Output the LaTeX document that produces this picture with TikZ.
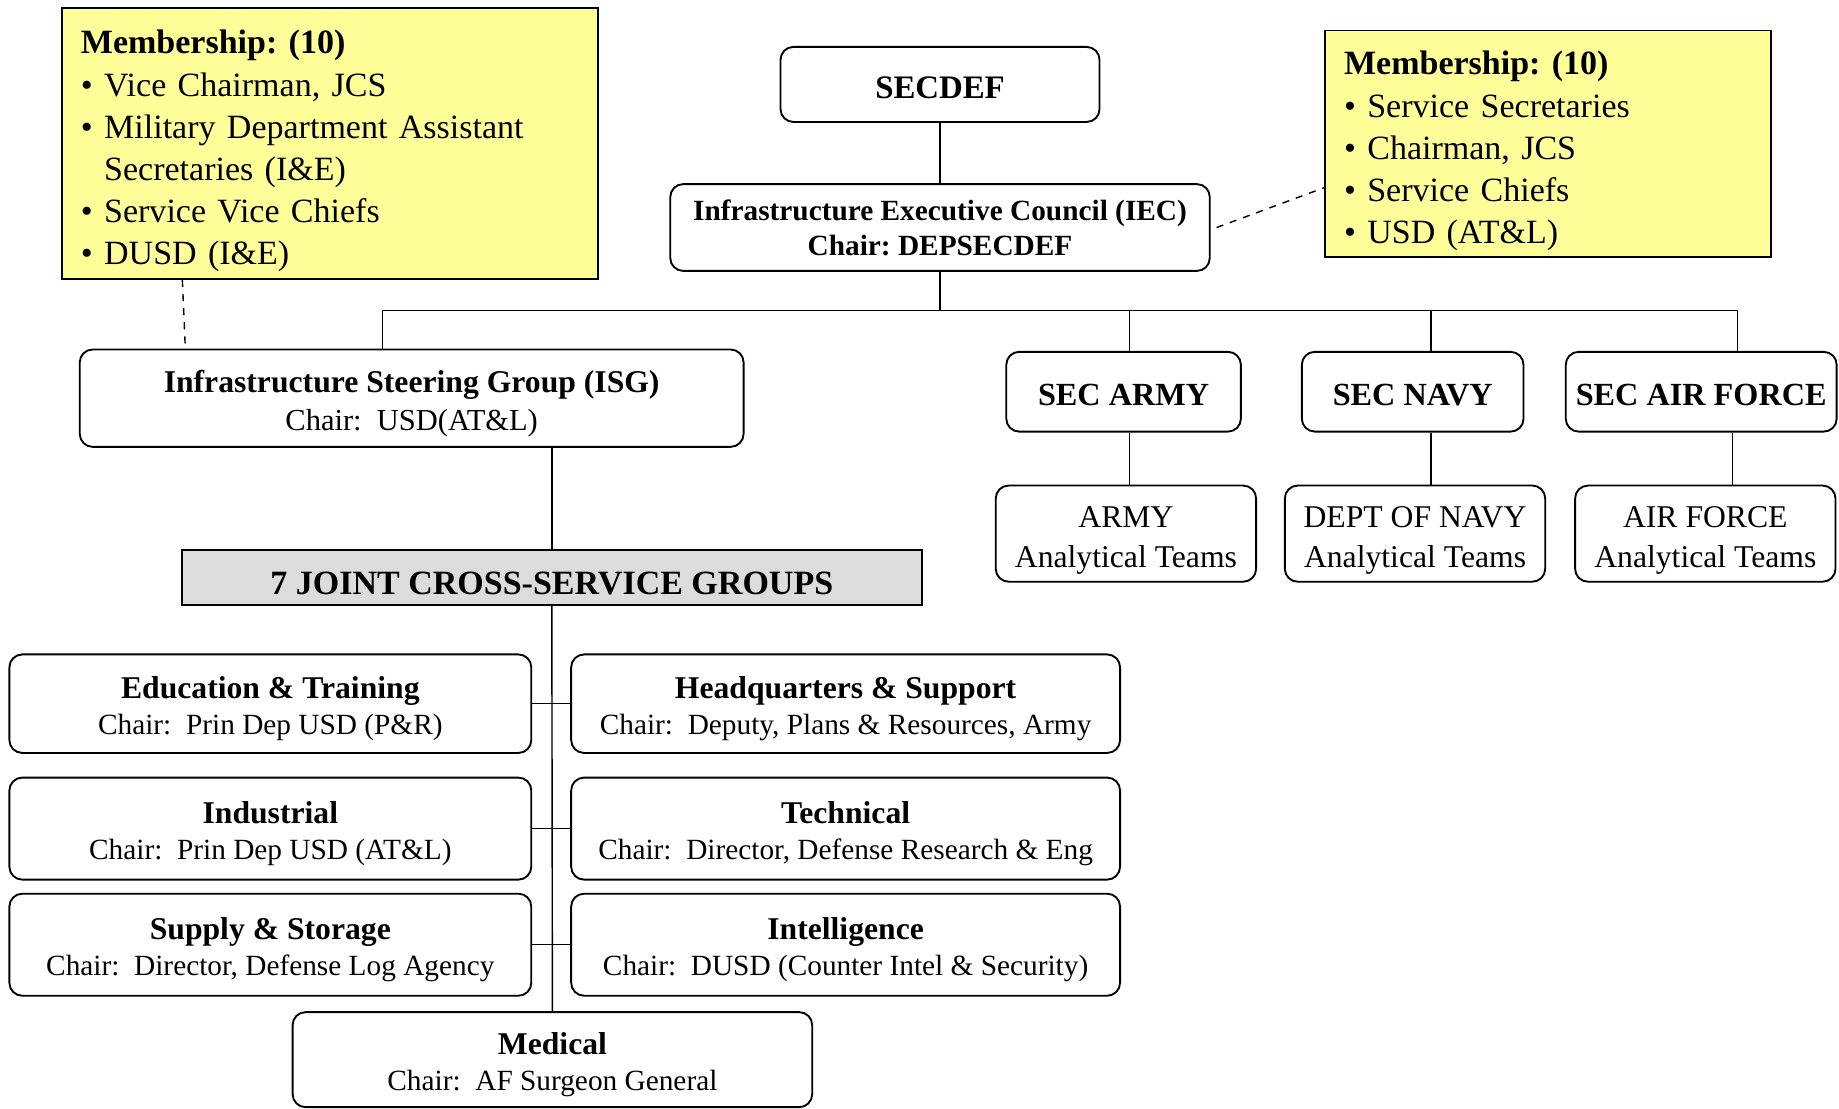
\documentclass[tikz,border=0pt]{standalone}
\usepackage{fontspec}
\setmainfont{Liberation Serif}
\frenchspacing
\definecolor{memyellow}{HTML}{FFFF99}
\definecolor{jcsggrey}{HTML}{DCDCDC}
\begin{document}
\begin{tikzpicture}
[x=0.5pt, y=-0.5pt,
 box/.style={draw, rounded corners=5.5pt, line width=0.8pt, align=center, inner sep=0pt, text depth=0pt,
   execute at begin node={\rule{0pt}{11.8pt}}},
 member/.style={draw, fill=memyellow, line width=0.8pt, align=left, inner xsep=8pt, inner ysep=0pt,
   font=\fontsize{14.5}{18}\selectfont, execute at begin node={\rule{0pt}{16.5pt}}},
 link/.style={line width=0.6pt},
 memberlink/.style={line width=0.6pt, dashed}]
\useasboundingbox (0,0) rectangle (1568,945);

%% membership boxes
\node[member, text width=212.5pt, minimum height=115.5pt] (memL) at (281.5,122.5)
  {\textbf{Membership: (10)}\\
   \textbullet\ Vice Chairman, JCS\\
   \textbullet\ Military Department Assistant\\
   \hphantom{\textbullet\ }Secretaries (I\&E)\\
   \textbullet\ Service Vice Chiefs\\
   \textbullet\ DUSD (I\&E)};
\node[member, text width=174pt, minimum height=96.5pt] (memR) at (1320,122.5)
  {\textbf{Membership: (10)}\\
   \textbullet\ Service Secretaries\\
   \textbullet\ Chairman, JCS\\
   \textbullet\ Service Chiefs\\
   \textbullet\ USD (AT\&L)};

%% top of the chart
\node[box, minimum width=136pt, minimum height=32pt, font=\fontsize{14}{17}\selectfont\bfseries]
  (secdef) at (801.5,72) {SECDEF};
\node[box, minimum width=230pt, minimum height=37pt, execute at begin node={},
  font=\fontsize{12.5}{15}\selectfont\bfseries]
  (iec) at (801.5,194) {Infrastructure Executive Council (IEC)\\Chair: DEPSECDEF};
\node[box, minimum width=283pt, minimum height=41.5pt, font=\fontsize{13}{16}\selectfont]
  (isg) at (351,339.5) {\rule{0pt}{11.3pt}{\fontsize{13.5}{16}\selectfont\bfseries Infrastructure Steering Group (ISG)}\\Chair:~~USD(AT\&L)};

%% services
\foreach \name/\x/\w/\txt in {secarmy/958/100pt/SEC ARMY, secnavy/1204.5/94.5pt/SEC NAVY,
  secaf/1450.5/115.5pt/SEC AIR FORCE}
{
  \node[box, minimum width=\w, minimum height=34pt, font=\fontsize{13.75}{17}\selectfont\bfseries]
    (\name) at (\x,334) {\txt};
}
\foreach \name/\x/\txt in {armyteam/960/ARMY, navyteam/1206.5/DEPT OF NAVY, afteam/1454/AIR FORCE}
{
  \node[box, minimum width=111pt, minimum height=41pt, font=\fontsize{13.5}{17}\selectfont]
    (\name) at (\x,455) {\rule{0pt}{11.9pt}\txt\\Analytical Teams};
}

%% joint cross-service groups
\node[draw, fill=jcsggrey, line width=0.8pt, minimum width=315.5pt, minimum height=23.5pt, inner sep=0pt,
  text height=14.5pt, text depth=0pt, font=\fontsize{14.5}{17}\selectfont\bfseries]
  (jcsg) at (470.5,492.5) {7 JOINT CROSS-SERVICE GROUPS};
\foreach \name/\x/\y/\w/\h/\title/\chair in {
  edu/230.5/600/222.5pt/42pt/{Education \& Training}/{Prin Dep USD (P\&R)},
  hq/721/600/234pt/42pt/{Headquarters \& Support}/{Deputy, Plans \& Resources, Army},
  ind/230.5/706.5/222.5pt/43.5pt/{Industrial}/{Prin Dep USD (AT\&L)},
  tech/721/706.5/234pt/43.5pt/{Technical}/{Director, Defense Research \& Eng},
  sup/230.5/805.5/222.5pt/43.5pt/{Supply \& Storage}/{Director, Defense Log Agency},
  intel/721/805.5/234pt/43.5pt/{Intelligence}/{DUSD (Counter Intel \& Security)},
  med/471/903.5/221.5pt/40.5pt/{Medical}/{AF Surgeon General}}
{
  \node[box, minimum width=\w, minimum height=\h, font=\fontsize{12.5}{15.5}\selectfont]
    (\name) at (\x,\y) {\rule{0pt}{11.1pt}{\fontsize{13.5}{15.5}\selectfont\bfseries \title}\\Chair:~~\chair};
}

%% connectors
\coordinate (bus) at (801.5,265);
\draw[link] (secdef) -- (iec);
\draw[link] (iec) -- (bus);
\draw[link] ([xshift=-12.5pt]isg.north) |- (bus) -| ([xshift=15.5pt]secaf.north);
\draw[link] ([xshift=2.5pt]secarmy.north) |- (bus);
\draw[link] ([xshift=7.75pt]secnavy.north) |- (bus);
\draw[link] ([xshift=2.5pt]secarmy.south) -- ([xshift=1.5pt]armyteam.north);
\draw[link] ([xshift=7.75pt]secnavy.south) -- ([xshift=6.75pt]navyteam.north);
\draw[link] ([xshift=13.25pt]secaf.south) -- ([xshift=11.5pt]afteam.north);
\draw[link] (isg.south -| jcsg.north) -- (jcsg.north);
\draw[link] (jcsg.south) -- (med.north);
\foreach \l/\r in {edu/hq, ind/tech, sup/intel}
{
  \draw[link] (\l.east) -- (\r.west);
}
%% membership links
\draw[memberlink] ([xshift=-63pt]memL.south) -- ([xshift=-96.5pt]isg.north);
\draw[memberlink] ([xshift=2.5pt]iec.east) -- ([yshift=-18.75pt]memR.west);
\end{tikzpicture}
\end{document}
